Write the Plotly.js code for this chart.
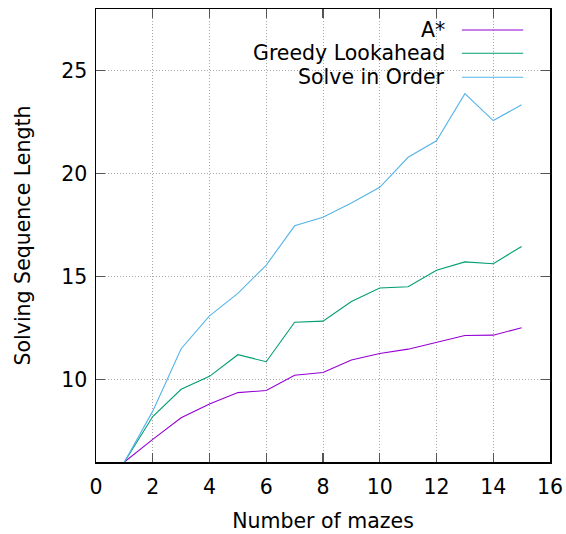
<!DOCTYPE html>
<html>
<head>
<meta charset="utf-8">
<script src="https://cdn.plot.ly/plotly-3.0.1.min.js"></script>
<style>html,body{margin:0;padding:0;background:#fff;}#chart{width:566px;height:534px;}</style>
</head>
<body>
<div id="chart"></div>
<script>
const mazes = [1,2,3,4,5,6,7,8,9,10,11,12,13,14,15];
const astar = [6.0,7.10,8.15,8.82,9.37,9.47,10.21,10.35,10.95,11.27,11.48,11.82,12.14,12.16,12.52];
const greedy = [6.0,8.21,9.53,10.16,11.21,10.87,12.79,12.84,13.79,14.45,14.51,15.31,15.72,15.63,16.47];
const inOrder = [6.0,8.47,11.5,13.1,14.19,15.56,17.47,17.89,18.58,19.34,20.80,21.60,23.89,22.58,23.35];
const seriesNames = ["A*","Greedy Lookahead","Solve in Order"];
const seriesColors = ["#9400d3","#009e73","#56b4e9"];
const xTicks = [0,2,4,6,8,10,12,14,16];
const yTicks = [10,15,20,25];

const font = {family:"DejaVu Sans", size:20.5, color:"#000"};
const allY = [astar, greedy, inOrder];
const traces = allY.map((ys,i)=>({
  x: mazes, y: ys, type:"scatter", mode:"lines", name: seriesNames[i],
  line:{color: seriesColors[i], width:1.1}, showlegend:false, cliponaxis:true
}));

// legend emulated gnuplot-style: text right-aligned, sample line to the right
const annotations = [];
const shapes = [
  {type:"rect", xref:"paper", yref:"paper", x0:0.306, x1:0.972, y0:0.822, y1:0.995,
   fillcolor:"#fff", line:{width:0}, layer:"between"}
];
const rowY = [0.9536, 0.9022, 0.8492];
seriesNames.forEach((n,i)=>{
  annotations.push({xref:"paper", yref:"paper", x:0.773, y:rowY[i], xanchor:"right", yanchor:"middle",
    text:n, showarrow:false, font:font});
  shapes.push({type:"line", xref:"paper", yref:"paper", x0:0.806, x1:0.941, y0:rowY[i], y1:rowY[i],
    line:{color:seriesColors[i], width:1.1}});
});

const axisCommon = {
  showline:true, linecolor:"#000", linewidth:1.5, mirror:"ticks",
  ticks:"inside", ticklen:9, tickwidth:1.2, tickcolor:"#555",
  showgrid:true, gridcolor:"#a6a6a6", griddash:"1px,2px", gridwidth:1,
  zeroline:false, tickfont:font
};
const layout = {
  width:566, height:534,
  margin:{l:96, r:16, t:9, b:72},
  paper_bgcolor:"#fff", plot_bgcolor:"#fff",
  font:font,
  showlegend:false,
  xaxis: Object.assign({}, axisCommon, {range:[0,16], tickvals:xTicks, ticktext:xTicks.map(String),
    ticklabelstandoff:6,
    title:{text:"Number of mazes", font:font, standoff:15}}),
  yaxis: Object.assign({}, axisCommon, {range:[6,28], tickvals:yTicks, ticktext:yTicks.map(String),
    ticklabelstandoff:3,
    title:{text:"Solving Sequence Length", font:font, standoff:25}}),
  annotations: annotations,
  shapes: shapes
};
Plotly.newPlot("chart", traces, layout, {staticPlot:true, displayModeBar:false});
</script>
</body>
</html>
